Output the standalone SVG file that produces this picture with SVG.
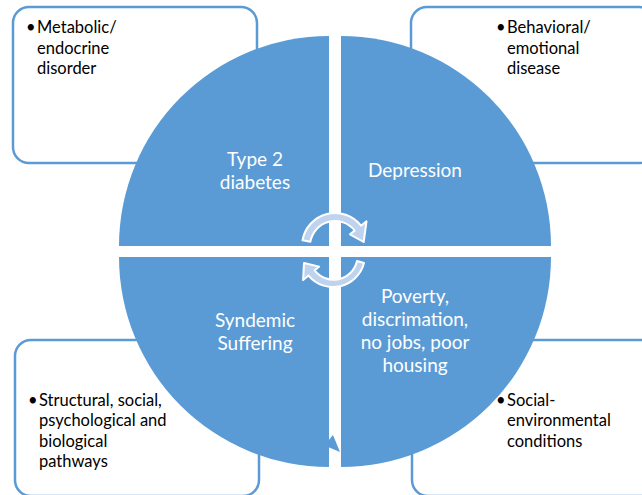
<svg xmlns="http://www.w3.org/2000/svg" width="642" height="495" viewBox="0 0 642 495">
  <defs>
    <style>
      .box { fill: #ffffff; stroke: #5b9bd5; stroke-width: 2.5; }
      .quad { fill: #5b9bd5; }
      .note { font-family: Lato, "Liberation Sans", sans-serif; font-size: 16.5px; fill: #000000; }
      .label { font-family: Lato, "Liberation Sans", sans-serif; font-size: 19px; fill: #ffffff; text-anchor: middle; }
      .cycle { fill: #bfd3ee; stroke: #ffffff; stroke-width: 2; stroke-linejoin: round; }
    </style>
  </defs>

  <rect width="642" height="495" fill="#ffffff"/>

  <!-- outer description boxes (behind the circle) -->
  <g id="box-metabolic">
    <rect class="box" x="13" y="7" width="244" height="156" rx="16"/>
    <text class="note"><tspan x="26" y="33">•</tspan><tspan x="37" y="33">Metabolic/</tspan><tspan x="37" y="54">endocrine</tspan><tspan x="37" y="74">disorder</tspan></text>
  </g>
  <g id="box-behavioral">
    <rect class="box" x="411" y="7" width="244" height="156" rx="16"/>
    <text class="note"><tspan x="496" y="33">•</tspan><tspan x="507" y="33">Behavioral/</tspan><tspan x="507" y="54">emotional</tspan><tspan x="507" y="74">disease</tspan></text>
  </g>
  <g id="box-pathways">
    <rect class="box" x="15" y="340" width="244" height="156" rx="16"/>
    <text class="note"><tspan x="28" y="406">•</tspan><tspan x="39" y="406">Structural, social,</tspan><tspan x="39" y="426">psychological and</tspan><tspan x="39" y="447">biological</tspan><tspan x="39" y="467">pathways</tspan></text>
  </g>
  <g id="box-conditions">
    <rect class="box" x="412" y="340" width="244" height="156" rx="16"/>
    <text class="note"><tspan x="496" y="406">•</tspan><tspan x="507" y="406">Social-</tspan><tspan x="507" y="426">environmental</tspan><tspan x="507" y="447">conditions</tspan></text>
  </g>

  <!-- four quarter-circle segments -->
  <g id="quad-diabetes">
    <path class="quad" d="M329,246 L119,246 A210,210 0 0 1 329,36 Z"/>
    <text class="label"><tspan x="255" y="166">Type 2</tspan><tspan x="255" y="189">diabetes</tspan></text>
  </g>
  <g id="quad-depression">
    <path class="quad" d="M341,246 L341,36 A210,210 0 0 1 551,246 Z"/>
    <text class="label" x="415" y="177">Depression</text>
  </g>
  <g id="quad-syndemic">
    <path class="quad" d="M329,257 L329,467 A210,210 0 0 1 119,257 Z"/>
    <polygon class="quad" points="328,441 333,435 340,452 328,447"/>
    <text class="label"><tspan x="255" y="327">Syndemic</tspan><tspan x="255" y="350">Suffering</tspan></text>
  </g>
  <g id="quad-poverty">
    <path class="quad" d="M341,257 L551,257 A210,210 0 0 1 341,467 Z"/>
    <text class="label"><tspan x="415" y="303">Poverty,</tspan><tspan x="415" y="326">discrimation,</tspan><tspan x="415" y="349">no jobs, poor</tspan><tspan x="415" y="372">housing</tspan></text>
  </g>

  <!-- circular arrows in the centre -->
  <g id="connectors">
    <path class="cycle" d="M302.5,240.3 A33,33 0 0 1 361.0,225.7 L366.5,221.4 L363.7,242 L350,234.3 L354.7,230.6 A25,25 0 0 0 310.4,241.7 Z"/>
    <path class="cycle" d="M364,263 A32,32 0 0 1 308.5,275.6 L303.1,280.1 L304,263 L319.2,266.6 L314.6,270.4 A24,24 0 0 0 357,261 Z"/>
  </g>
</svg>
